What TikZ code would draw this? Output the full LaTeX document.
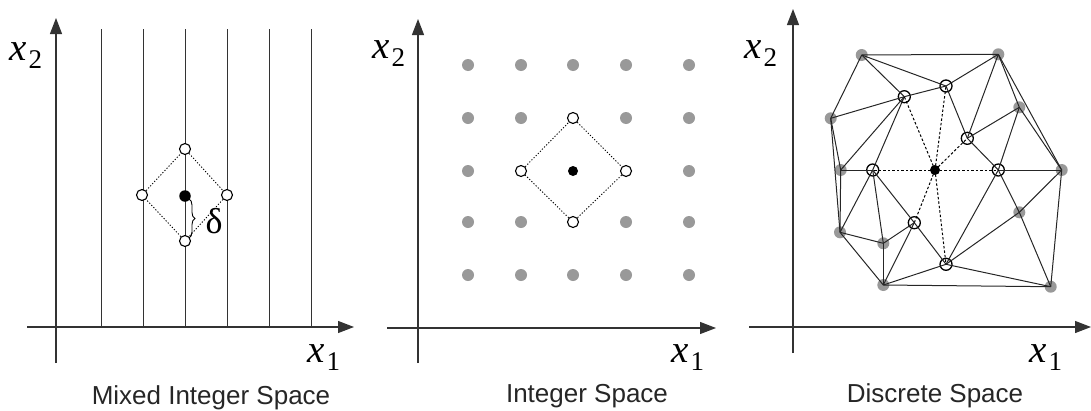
\documentclass[tikz,border=0pt]{standalone}
\usepackage{fontspec}
\setmainfont{Liberation Sans}
\newfontfamily\tnr{Liberation Serif}
\usetikzlibrary{arrows.meta,decorations.pathreplacing}
\newcommand\axlab[1]{{\tnr\itshape\fontsize{39}{39}\selectfont x}\kern2pt\raisebox{-8pt}{\tnr\fontsize{27}{27}\selectfont #1}}
\tikzset{
 axis/.style={line width=1.2pt, draw=black!80, -{Triangle[length=16pt,width=12pt]}},
 vline/.style={line width=1pt, draw=black!80},
 odot/.style={circle, draw=black, line width=1.1pt, fill=white, minimum size=11pt, inner sep=0pt},
 bdot/.style={circle, fill=black, minimum size=11.5pt, inner sep=0pt},
 gdot/.style={circle, fill=black!40, minimum size=12pt, inner sep=0pt},
 ocirc/.style={circle, draw=black, line width=1.3pt, minimum size=12pt, inner sep=0pt},
 diam/.style={line width=0.9pt, dash pattern=on 1.2pt off 1.8pt},
 edge/.style={line width=1pt, draw=black!85},
 dedge/.style={line width=1pt, dash pattern=on 2.5pt off 2pt},
 title/.style={font=\fontsize{26}{26}\selectfont, text=black!85, anchor=base, inner sep=0pt},
 axlabel/.style={anchor=base west, inner sep=0pt},
}
\begin{document}
\begin{tikzpicture}[x=1pt,y=-1pt]
\path[use as bounding box] (0,0) rectangle (1091,410);

% ---------------- Panel 1 ----------------
\coordinate (a1o) at (27,327); \coordinate (a1e) at (354,327);
\coordinate (b1o) at (56,363); \coordinate (b1e) at (56,18);
\foreach \x [count=\i] in {101,143,185,227,269,311} {
  \coordinate (vt\i) at (\x,29); \coordinate (vb\i) at (\x,327);
  \draw[vline] (vt\i) -- (vb\i);
}
\draw[axis] (a1o) -- (a1e);
\draw[axis] (b1o) -- (b1e);
\node[odot] (m1t) at (185,149) {};
\node[odot] (m1l) at (142,195) {};
\node[odot] (m1r) at (227,195) {};
\node[odot] (m1b) at (185,241) {};
\node[bdot] (m1c) at (185,196) {};
\draw[diam] (m1t) -- (m1r) -- (m1b) -- (m1l) -- (m1t);
\coordinate (br1) at (189,199); \coordinate (br2) at (189,238);
\draw[line width=0.9pt, decorate, decoration={brace, amplitude=6pt}] (br1) -- (br2);
\node[inner sep=0pt] (delta) at (214,221) {\tnr\fontsize{36}{36}\selectfont δ};
\node[axlabel] (lx2a) at (9,60) {\axlab{2}};
\node[axlabel] (lx1a) at (307,362) {\axlab{1}};
\node[title] (t1) at (211,404) {Mixed Integer Space};

% ---------------- Panel 2 ----------------
\coordinate (a2o) at (387,328); \coordinate (a2e) at (716,328);
\coordinate (b2o) at (418,363); \coordinate (b2e) at (418,19);
\draw[axis] (a2o) -- (a2e);
\draw[axis] (b2o) -- (b2e);
\foreach \x/\y [count=\i] in {468/65,521/65,573/65,626/65,689/65,
  468/118,521/118,626/118,689/118,
  468/171,689/171,
  468/222,521/222,626/222,689/222,
  468/275,521/275,573/275,626/275,689/275} {
  \node[gdot] (p\i) at (\x,\y) {};
}
\node[odot] (m2t) at (573,118) {};
\node[odot] (m2l) at (521,171) {};
\node[odot] (m2r) at (626,171) {};
\node[odot] (m2b) at (573,222) {};
\node[bdot, minimum size=10pt] (m2c) at (573,171) {};
\draw[diam] (m2t) -- (m2r) -- (m2b) -- (m2l) -- (m2t);
\node[axlabel] (lx2b) at (372,58) {\axlab{2}};
\node[axlabel] (lx1b) at (671,362) {\axlab{1}};
\node[title] (t2) at (587,402) {Integer Space};

% ---------------- Panel 3 ----------------
\coordinate (a3o) at (749,327); \coordinate (a3e) at (1091,327);
\coordinate (b3o) at (793,353); \coordinate (b3e) at (793,9);
\draw[axis] (a3o) -- (a3e);
\draw[axis] (b3o) -- (b3e);
\node[gdot] (g1) at (861.7,55) {};
\node[gdot] (g2) at (998.3,54.3) {};
\node[gdot] (g3) at (830.7,118.3) {};
\node[gdot] (g4) at (1019.3,107.3) {};
\node[gdot] (g5) at (840.7,170) {};
\node[gdot] (g6) at (1061.7,170) {};
\node[gdot] (g7) at (840,232.3) {};
\node[gdot] (g8) at (883.3,243.3) {};
\node[gdot] (g9) at (1019.3,212.3) {};
\node[gdot] (g10) at (883.3,285) {};
\node[gdot] (g11) at (1050.7,286.7) {};
\node[ocirc] (o1) at (904.3,96.7) {};
\node[ocirc] (o2) at (946,86) {};
\node[ocirc] (o3) at (967.3,138.3) {};
\node[ocirc] (o4) at (872.7,170) {};
\node[ocirc] (o5) at (998.3,170) {};
\node[ocirc] (o6) at (914.3,222.7) {};
\node[ocirc] (o7) at (946,264.3) {};
\node[bdot, minimum size=10pt] (c3) at (935,170) {};
\foreach \a/\b in {g1/g2,g1/o2,g1/o1,g1/g3,g3/o1,o1/o2,o2/g2,o2/o3,g2/o3,g2/g4,g4/g6,g2/g6,
  g4/o3,g4/o5,o3/o5,o5/g6,o5/g9,g9/g11,o5/o7,o7/g9,g9/g6,g6/g11,
  o7/g11,o7/g10,o7/o6,g10/g11,o6/g10,o6/g8,o6/o4,
  g8/g10,g7/g8,g7/g10,g7/o4,g8/o4,g5/o4,g5/o1,o1/o4,g5/g7,g3/g5,g3/g7} {
  \draw[edge] (\a.center) -- (\b.center);
}
\foreach \o in {o1,o2,o3,o4,o5,o6,o7} {
  \draw[dedge] (c3.center) -- (\o.center);
}
\node[axlabel] (lx2c) at (744,58) {\axlab{2}};
\node[axlabel] (lx1c) at (1029,362) {\axlab{1}};
\node[title] (t3) at (935,402) {Discrete Space};
\end{tikzpicture}
\end{document}
